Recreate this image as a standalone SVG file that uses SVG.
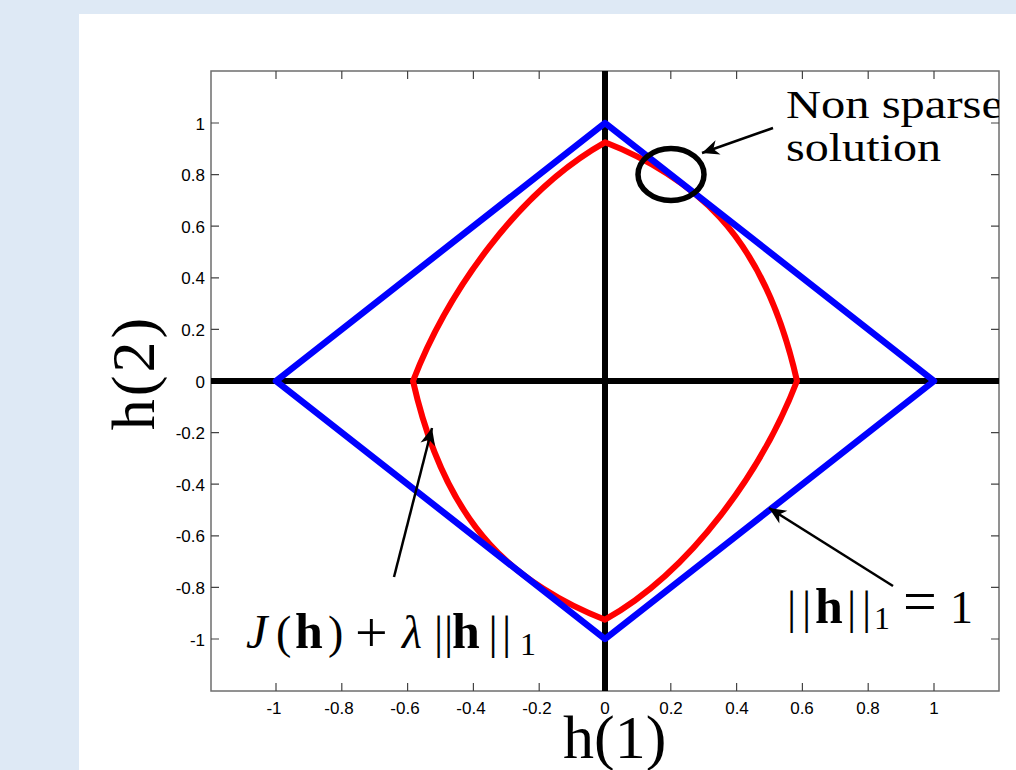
<svg xmlns="http://www.w3.org/2000/svg" width="1016" height="770" viewBox="0 0 1016 770">
<style>
.tick{font-family:"Liberation Sans",Arial,sans-serif;font-size:17px;fill:#000}
.ty{text-anchor:end}
.tx{text-anchor:middle}
.tm{stroke:#444;stroke-width:1.2;fill:none}
.math{font-family:"Liberation Serif","Times New Roman",serif;fill:#000}
.arr{stroke:#000;stroke-width:2.5;fill:none;marker-end:url(#ah)}
</style>
<defs>
<marker id="ah" markerUnits="userSpaceOnUse" markerWidth="24" markerHeight="24" viewBox="-20 -12 24 24" refX="0" refY="0" orient="auto" overflow="visible">
<path d="M0,0 L-17,-7.5 L-12,0 L-17,7.5 Z" fill="#000"/>
</marker>
<clipPath id="axclip"><rect x="211" y="0" width="788" height="770"/></clipPath>
</defs>
<rect x="0" y="0" width="1016" height="770" fill="#dee9f5"/>
<rect x="79" y="14" width="937" height="756" fill="#fff"/>
<g id="axes">
<rect x="211" y="71" width="788" height="620" fill="none" stroke="#6e6e6e" stroke-width="1.5"/>
<g class="tm">
<path d="M211,123h8M211,174.6h8M211,226.2h8M211,277.8h8M211,329.4h8M211,381h8M211,432.6h8M211,484.2h8M211,535.8h8M211,587.4h8M211,639h8"/>
<path d="M999,123h-8M999,174.6h-8M999,226.2h-8M999,277.8h-8M999,329.4h-8M999,381h-8M999,432.6h-8M999,484.2h-8M999,535.8h-8M999,587.4h-8M999,639h-8"/>
<path d="M276,691v-8M341.8,691v-8M407.6,691v-8M473.4,691v-8M539.2,691v-8M605,691v-8M670.8,691v-8M736.6,691v-8M802.4,691v-8M868.2,691v-8M934,691v-8"/>
<path d="M276,71v8M341.8,71v8M407.6,71v8M473.4,71v8M539.2,71v8M605,71v8M670.8,71v8M736.6,71v8M802.4,71v8M868.2,71v8M934,71v8"/>
</g>
<g class="tick ty">
<text x="205" y="129.5">1</text>
<text x="205" y="181.1">0.8</text>
<text x="205" y="232.7">0.6</text>
<text x="205" y="284.3">0.4</text>
<text x="205" y="335.9">0.2</text>
<text x="205" y="387.5">0</text>
<text x="205" y="439.1">-0.2</text>
<text x="205" y="490.7">-0.4</text>
<text x="205" y="542.3">-0.6</text>
<text x="205" y="593.9">-0.8</text>
<text x="205" y="645.5">-1</text>
</g>
<g class="tick tx">
<text x="274" y="714">-1</text>
<text x="339" y="714">-0.8</text>
<text x="405" y="714">-0.6</text>
<text x="471" y="714">-0.4</text>
<text x="537" y="714">-0.2</text>
<text x="605" y="714">0</text>
<text x="671" y="714">0.2</text>
<text x="737" y="714">0.4</text>
<text x="802" y="714">0.6</text>
<text x="868" y="714">0.8</text>
<text x="934" y="714">1</text>
</g>
<path d="M211,381H999M605,71V691" stroke="#000" stroke-width="6" fill="none"/>
</g>
<g id="curves">
<path id="red-curve" d="M605,142.3 C646.9,158.5 689.7,184.2 720,217.5 C760.4,261.9 783.8,322.5 797,381 C762.8,469.4 692,570.7 605,619.7 C563.1,603.5 520.3,577.8 490,544.5 C449.6,500.1 426.2,439.5 413,381 C447.2,292.6 518,191.3 605,142.3 Z" fill="none" stroke="#ff0000" stroke-width="6" stroke-linejoin="round"/>
<path id="l1-ball" d="M605,123 L934,381 L605,639 L276,381 Z" fill="none" stroke="#0000ff" stroke-width="6.5" stroke-linejoin="round"/>
<ellipse id="circle" cx="671" cy="174.5" rx="33" ry="26" fill="none" stroke="#000" stroke-width="5.5"/>
</g>
<g id="connectors">
<line class="arr" x1="773" y1="128" x2="702" y2="153"/>
<line class="arr" x1="893" y1="586" x2="769" y2="508"/>
<line class="arr" x1="394" y1="577" x2="432" y2="428"/>
</g>
<g id="label-nonsparse" clip-path="url(#axclip)">
<text class="math" x="786" y="118" font-size="41" textLength="217" lengthAdjust="spacingAndGlyphs">Non sparse</text>
<text class="math" x="786" y="161" font-size="41" textLength="155" lengthAdjust="spacingAndGlyphs">solution</text>
</g>
<g id="label-norm">
<text class="math" font-size="46" y="623"><tspan x="787">|</tspan><tspan x="802">|</tspan><tspan x="815" font-weight="bold" font-size="50">h</tspan><tspan x="847">|</tspan><tspan x="862">|</tspan><tspan x="874" y="629" font-size="32">1</tspan><tspan x="903" y="621" font-size="60">=</tspan><tspan x="950" y="623">1</tspan></text>
</g>
<g id="label-objective">
<text class="math" font-size="46" y="648"><tspan x="246" font-style="italic" font-size="48">J</tspan><tspan x="276">(</tspan><tspan x="295" font-weight="bold" font-size="50">h</tspan><tspan x="328">)</tspan><tspan x="355" y="652" font-size="58">+</tspan><tspan x="402" y="648" font-style="italic">λ</tspan><tspan x="434">|</tspan><tspan x="444">|</tspan><tspan x="452" font-weight="bold" font-size="50">h</tspan><tspan x="488.5">|</tspan><tspan x="502">|</tspan><tspan x="520" y="655" font-size="32">1</tspan></text>
</g>
<g id="axis-labels">
<text class="math" x="563" y="758" font-size="62">h(1)</text>
<text class="math" font-size="62" text-anchor="middle" letter-spacing="3" transform="translate(154,372.5) rotate(-90)">h(2)</text>
</g>
</svg>
